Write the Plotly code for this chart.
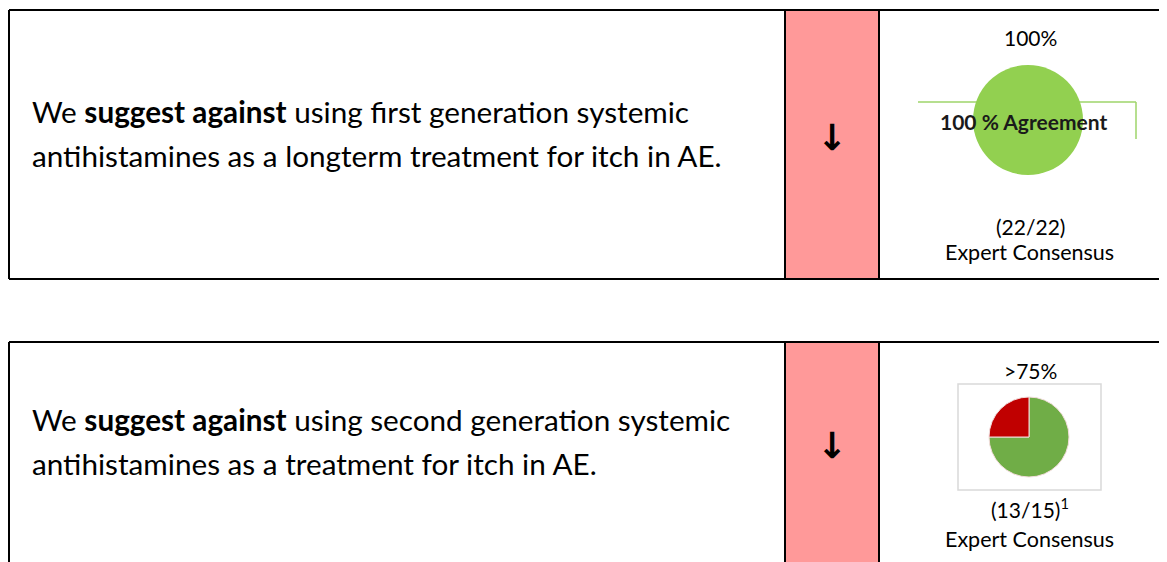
import plotly.graph_objects as go

W, H = 1167, 562
OFF = 8  # page body margin: figure is drawn starting at (8, 8)

# ---- data ----
statement_lines = [
    ["We <b>suggest against</b> using first generation systemic",
     "antihistamines as a longterm treatment for itch in AE."],
    ["We <b>suggest against</b> using second generation systemic",
     "antihistamines as a treatment for itch in AE."],
]
strength_symbols = ["↓", "↓"]
agreement_labels = ["100%", ">75%"]
vote_labels = ["(22/22)", "(13/15)<sup>1</sup>"]
consensus_labels = ["Expert Consensus", "Expert Consensus"]
pie1_labels = ["Agreement", "Disagreement"]
pie1_values = [100, 0]
pie1_caption = "100 % Agreement"
pie2_labels = ["Agreement", "Disagreement"]
pie2_values = [75, 25]

# ---- style ----
FONT = "Lato"
BLACK = "#000000"
PINK = "#FF9999"
FW, FH = W - OFF, H - OFF

def px(x):
    return (x - OFF) / FW

def py(y):
    return 1 - (y - OFF) / FH

fig = go.Figure()

# pies
fig.add_trace(go.Pie(
    labels=pie1_labels, values=pie1_values, sort=False,
    marker=dict(colors=["#92D050", "#C00000"], line=dict(width=0)),
    textinfo="none", hoverinfo="skip", showlegend=False,
    domain=dict(x=[px(973), px(1083)], y=[py(175), py(65)]),
))
fig.add_trace(go.Pie(
    labels=pie2_labels, values=pie2_values, sort=False, direction="clockwise",
    marker=dict(colors=["#70AD47", "#C00000"], line=dict(color="#F2DCDB", width=1)),
    textinfo="none", hoverinfo="skip", showlegend=False,
    domain=dict(x=[px(989), px(1069)], y=[py(477), py(397)]),
))

shapes = []
def line(x0, y0, x1, y1, color=BLACK, width=2, layer="above"):
    shapes.append(dict(type="line", xref="x", yref="y", x0=x0, y0=y0, x1=x1, y1=y1,
                       line=dict(color=color, width=width), layer=layer))

def rect(x0, y0, x1, y1, fill, color=None, width=0, layer="below"):
    shapes.append(dict(type="rect", xref="x", yref="y", x0=x0, y0=y0, x1=x1, y1=y1,
                       fillcolor=fill, line=dict(color=color or fill, width=width), layer=layer))

rows = [(10, 279), (342, 575)]
for top, bot in rows:
    rect(785, top, 879, bot, PINK)
    line(9, top, W + 2, top)
    line(9, top, 9, bot)
    line(785, top, 785, bot)
    line(879, top, 879, bot)
    if bot < H:
        line(9, bot, W + 2, bot)

# green caption box behind pie 1
line(918, 102, 1136, 102, color="#9ED46A", width=1.5, layer="below")
line(1136, 102, 1136, 139, color="#9ED46A", width=1.5, layer="below")
# gray frame around pie 2
rect(958, 384, 1101, 490, "white", color="#D9D9D9", width=1.5)

fig.update_layout(shapes=shapes)

ann = []
def text(x, y, s, size, xanchor="center", color="#000000", family=FONT):
    ann.append(dict(x=x, y=y, xref="x", yref="y", text=s, showarrow=False,
                    xanchor=xanchor, yanchor="middle",
                    font=dict(family=family, size=size, color=color)))

line_y = [(111, 155), (419, 463)]
arrow_y = [137, 445]
agree_y = [37, 370]
vote_y = [226, 508]
cons_y = [252, 539]
for i in range(2):
    text(30, line_y[i][0], statement_lines[i][0], 29.7, xanchor="left")
    text(30, line_y[i][1], statement_lines[i][1], 29.7, xanchor="left")
    text(832, arrow_y[i], "<b>" + strength_symbols[i] + "</b>", 36, family="DejaVu Sans")
    text(1030, agree_y[i], agreement_labels[i], 21)
    text(1030, vote_y[i], vote_labels[i], 21)
    text(1029, cons_y[i], consensus_labels[i], 21.5)

text(1023, 121, "<b>" + pie1_caption + "</b>", 21, color="#1A1A1A")

fig.update_layout(
    annotations=ann,
    width=FW, height=FH,
    margin=dict(l=0, r=0, t=0, b=0),
    paper_bgcolor="white", plot_bgcolor="white",
    xaxis=dict(range=[OFF, W], visible=False, fixedrange=True),
    yaxis=dict(range=[H, OFF], visible=False, fixedrange=True),
    showlegend=False,
)

fig.write_html("out.html")
